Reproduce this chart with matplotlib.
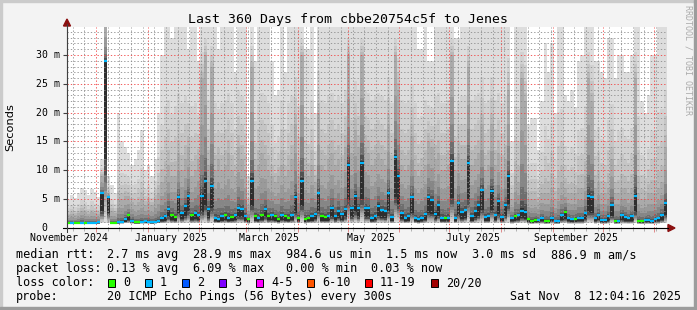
#!/usr/bin/env python3
# smokeping style "last 360 days" graph, cbbe20754c5f -> Jenes

import matplotlib
matplotlib.use("Agg")
import matplotlib.pyplot as plt
import matplotlib.dates as mdates
import matplotlib.transforms as mtrans
from matplotlib.patches import Rectangle, Polygon
from matplotlib.lines import Line2D
from datetime import datetime, timedelta

W, H = 697, 310
MONO = "DejaVu Sans Mono"

start = datetime(2024, 11, 13, 12, 4, 16)
end = datetime(2025, 11, 8, 12, 4, 16)
bin_days = 2

# median rtt per 2-day bin (ms)
med = [0.95, 0.9, 0.95, 0.9, 0.95, 0.9, 0.95, 0.9, 0.95, 1.0,
       6.0, 28.9, 5.4, 0.9, 0.95, 1.0, 1.1, 1.6, 2.2, 1.3,
       1.0, 1.0, 1.1, 1.2, 1.1, 1.0, 1.1, 1.3, 1.7, 2.0,
       3.3, 2.3, 1.9, 5.3, 2.6, 3.8, 5.6, 2.2, 2.6, 2.3,
       5.6, 8.2, 3.3, 7.3, 1.8,
       1.6, 2.0, 2.2, 1.8, 1.9, 2.2, 3.4, 3.3, 2.0, 1.5,
       8.2, 2.0, 1.7, 2.3, 3.3, 2.1, 2.3, 2.0, 1.6, 2.2,
       2.0, 1.8, 2.3, 5.4, 1.7, 8.2, 1.6, 1.8, 2.0, 2.5,
       6.0, 2.0, 1.9, 2.0, 3.4, 2.1, 3.0, 2.4, 3.3, 10.9,
       3.4, 5.6, 3.5, 11.3, 3.4,
       3.4, 1.8, 2.1, 3.9, 3.2, 3.0, 6.1, 1.9, 12.3, 9.1,
       2.6, 1.8, 2.0, 5.3, 1.7, 1.5, 1.7, 2.4, 5.3, 4.9,
       2.5, 4.0, 1.8, 1.7, 1.8, 11.6, 1.8, 4.3, 2.8, 3.2,
       11.3, 2.0, 3.0, 4.0, 6.6, 1.9, 2.0, 6.5, 2.3, 4.6,
       1.9, 4.0, 9.0, 1.7, 2.0,
       2.2, 3.0, 2.8, 1.5, 1.3, 1.4, 1.4, 1.7, 1.2, 1.3,
       1.8, 1.2, 1.2, 2.2, 2.8, 1.7, 1.5, 1.6, 1.7, 1.7,
       2.6, 5.6, 5.3, 1.7, 2.2, 1.4, 1.4, 2.0, 4.0, 1.2,
       1.3, 2.2, 1.9, 1.7, 2.0, 5.6, 1.3, 1.2, 1.4, 1.4,
       1.3, 1.6, 1.7, 2.2, 4.3]

# loss bucket of the median per bin (0 = no loss, 1 = 1/20)
loss = [0, 1, 0, 0, 1, 0, 1, 1, 1, 1, 1, 1, 1, 0, 0, 1, 1, 1, 0, 1,
        0, 0, 1, 1, 1, 1, 1, 1, 1, 1, 1, 0, 0, 1, 1, 1, 1, 0, 1, 1,
        1, 1, 1, 1, 1,
        1, 1, 0, 1, 0, 1, 1, 1, 1, 0, 1, 0, 1, 0, 1, 0, 1, 0, 0, 1,
        0, 0, 1, 1, 0, 1, 0, 0, 1, 1, 1, 0, 0, 1, 1, 1, 1, 1, 1, 1,
        1, 1, 1, 1, 1,
        1, 1, 1, 1, 1, 1, 1, 1, 1, 1, 1, 1, 1, 1, 1, 1, 1, 1, 1, 1,
        1, 1, 1, 0, 1, 1, 1, 1, 1, 1, 1, 1, 1, 1, 1, 1, 1, 1, 1, 1,
        1, 1, 1, 1, 0,
        1, 1, 1, 0, 0, 0, 1, 1, 0, 0, 1, 1, 1, 1, 0, 1, 1, 0, 1, 1,
        1, 1, 1, 1, 1, 1, 1, 1, 1, 0, 1, 1, 1, 1, 1, 1, 0, 0, 1, 1,
        1, 1, 1, 1, 1]

# highest ping of the bin (top of the light smoke, ms)
hi = [5.0, 5.7, 5.2, 6.0, 7.0, 6.6, 5.8, 6.8, 6.2, 5.4,
      12, 36, 9, 7.5, 6.0, 20, 15, 14, 13, 11,
      12, 13.5, 17, 10, 11, 9, 12, 20, 30, 36,
      36, 33, 36, 36, 36, 36, 31, 36, 36, 29,
      36, 36, 36, 36, 36,
      31, 36, 36, 36, 36, 27, 36, 36, 36, 9,
      36, 29, 36, 36, 36, 36, 29, 23, 24, 36,
      27, 36, 36, 36, 36, 36, 31, 31, 36, 20,
      36, 36, 36, 36, 36, 36, 36, 36, 36, 36,
      36, 36, 36, 36, 36,
      36, 36, 36, 36, 36, 36, 36, 36, 36, 36,
      36, 36, 36, 36, 36, 31, 31, 36, 29, 29,
      36, 36, 36, 36, 36, 36, 33, 33, 36, 36,
      36, 36, 36, 36, 36, 36, 36, 36, 36, 36,
      36, 36, 36, 15, 36,
      36, 36, 36, 18, 19, 19, 13.5, 22, 32, 27,
      32, 20, 36, 36, 23, 22, 24, 21, 29, 30,
      36, 36, 36, 29, 29, 27, 26, 33, 33, 26,
      30, 30, 27, 27, 30, 36, 36, 22, 20, 23,
      30, 30, 36, 36, 36]

# upper quartile ping (top of the darker smoke, ms)
q = [2.2, 2.5, 2.3, 2.6, 3.0, 2.8, 2.5, 2.8, 2.6, 2.4,
     9, 36, 6, 3, 2.6, 5, 5, 5.5, 5.5, 4.5,
     4, 4.5, 5, 4, 4.5, 4, 5, 6, 8, 9,
     11, 9, 9, 13, 10, 12, 14, 9, 10, 12,
     26, 30, 11, 28, 10,
     12, 10, 11, 13, 10, 9, 14, 12, 10, 4,
     28, 10, 11, 13, 12, 10, 9, 8, 9, 11,
     9, 10, 12, 18, 9, 30, 10, 9, 11, 8,
     20, 11, 10, 12, 13, 11, 12, 10, 14, 30,
     13, 17, 14, 30, 14,
     13, 11, 12, 13, 12, 11, 18, 10, 30, 24,
     11, 10, 11, 16, 10, 9, 10, 11, 15, 14,
     12, 13, 10, 10, 11, 30, 10, 13, 12, 12,
     28, 11, 12, 13, 18, 10, 11, 18, 11, 13,
     10, 12, 24, 5, 9,
     8, 26, 22, 5, 5, 5, 4.5, 6, 6, 6,
     7, 5, 7, 8, 7, 6, 6, 6, 7, 7,
     9, 26, 22, 7, 8, 6, 6, 7, 12, 6,
     6, 7, 7, 6, 7, 26, 6, 5, 5, 6,
     6, 6, 7, 8, 14]

# lowest ping of the bin (ms)
lo = [0.7, 0.7, 0.7, 0.7, 0.7, 0.7, 0.7, 0.7, 0.7, 0.7,
      0.8, 0.8, 0.8, 0.7, 0.7, 0.7, 0.75, 0.8, 0.8, 0.75,
      0.7, 0.7, 0.75, 0.75, 0.75, 0.7, 0.75, 0.8, 0.8, 0.8,
      0.85, 0.8, 0.8, 0.85, 0.8, 0.85, 0.85, 0.8, 0.8, 0.8,
      0.85, 0.85, 0.8, 0.85, 0.8,
      0.8, 0.8, 0.8, 0.8, 0.8, 0.8, 0.85, 0.85, 0.8, 0.75,
      0.85, 0.8, 0.8, 0.8, 0.85, 0.8, 0.8, 0.8, 0.75, 0.8,
      0.8, 0.8, 0.8, 0.85, 0.8, 0.85, 0.75, 0.8, 0.8, 0.8,
      0.85, 0.8, 0.8, 0.8, 0.85, 0.8, 0.85, 0.8, 0.85, 0.9,
      0.85, 0.85, 0.85, 0.9, 0.85,
      0.85, 0.8, 0.8, 0.85, 0.85, 0.8, 0.85, 0.8, 0.9, 0.9,
      0.8, 0.8, 0.8, 0.85, 0.8, 0.75, 0.8, 0.8, 0.85, 0.85,
      0.8, 0.85, 0.8, 0.8, 0.8, 0.9, 0.8, 0.85, 0.8, 0.85,
      0.9, 0.8, 0.8, 0.85, 0.85, 0.8, 0.8, 0.85, 0.8, 0.85,
      0.8, 0.85, 0.85, 0.75, 0.8,
      0.8, 0.85, 0.85, 0.75, 0.7, 0.75, 0.75, 0.75, 0.7, 0.7,
      0.75, 0.7, 0.7, 0.8, 0.8, 0.75, 0.75, 0.75, 0.75, 0.75,
      0.8, 0.85, 0.85, 0.75, 0.8, 0.7, 0.7, 0.75, 0.8, 0.7,
      0.7, 0.75, 0.75, 0.75, 0.75, 0.85, 0.7, 0.7, 0.7, 0.7,
      0.7, 0.75, 0.75, 0.8, 0.8]

loss_colors = ["#26ff00", "#00b8ff", "#0059ff", "#7e00ff",
               "#ff00ff", "#ff5500", "#ff0000", "#a10000"]
loss_labels = ["0", "1", "2", "3", "4-5", "6-10", "11-19", "20/20"]

y_ticks = [0, 5, 10, 15, 20, 25, 30]
x_labels = [(datetime(2024, 11, 15), "November 2024"),
            (datetime(2025, 1, 15), "January 2025"),
            (datetime(2025, 3, 15), "March 2025"),
            (datetime(2025, 5, 15), "May 2025"),
            (datetime(2025, 7, 15), "July 2025"),
            (datetime(2025, 9, 15), "September 2025")]

legend_rows = [
    [(16, "median rtt:"), (107, "2.7 ms avg"), (193, "28.9 ms max"),
     (286, "984.6 us min"), (386, "1.5 ms now"), (472, "3.0 ms sd"),
     (551, "886.9 m am/s")],
    [(16, "packet loss:"), (107, "0.13 % avg"), (193, "6.09 % max"),
     (286, "0.00 % min"), (371, "0.03 % now")],
]
loss_box_x = [108, 145, 182, 219, 256, 307, 365, 431]


def fx(px):
    return px / W


def fy(py):
    return 1 - py / H


fig = plt.figure(figsize=(W / 100, H / 100), dpi=100, facecolor="#f3f3f3")
ax = fig.add_axes([fx(67), fy(228), 600 / W, 201 / H])
ax.set_facecolor("white")

# smoke: 10 shades, light outside, dark around the median
grays = ["#dddddd", "#d1d1d1", "#c5c5c5", "#b8b8b8", "#aaaaaa",
         "#9a9a9a", "#868686", "#6e6e6e", "#515151", "#2e2e2e"]
outer_fr = [1.0, 0.45, 0.25, 0.1, 0.0]
inner_fr = [0.6, 0.35, 0.18, 0.07, 0.02]
low_fr = [1.0, 0.97, 0.94, 0.9, 0.87, 0.84, 0.8, 0.75, 0.7, 0.6]

n = len(med)
x0 = [mdates.date2num(start + timedelta(days=bin_days * i)) for i in range(n)]
for k in range(10):
    tops, bots = [], []
    for i in range(n):
        if k < 5:
            top = q[i] + (hi[i] - q[i]) * outer_fr[k]
        else:
            top = med[i] + (q[i] - med[i]) * inner_fr[k - 5]
        bot = med[i] - (med[i] - lo[i]) * low_fr[k]
        tops.append(top)
        bots.append(bot)
    ax.bar(x0, [t - b for t, b in zip(tops, bots)], bottom=bots,
           width=bin_days, align="edge", color=grays[k], linewidth=0,
           antialiased=False, zorder=1)

# median line coloured by loss
ax.hlines(med, x0, [x + bin_days for x in x0],
          colors=[loss_colors[c] for c in loss], linewidth=1.6, zorder=4)

ax.set_xlim(mdates.date2num(start), mdates.date2num(end))
ax.set_ylim(0, 34.85)

# grid (dotted, drawn over the smoke like rrdtool does)
ax.xaxis.set_major_locator(mdates.MonthLocator(bymonthday=1))
ax.xaxis.set_minor_locator(mdates.WeekdayLocator(byweekday=mdates.SU))
ax.set_yticks(y_ticks)
ax.set_yticks(range(0, 35), minor=True)
ax.set_axisbelow(False)
ax.grid(which="minor", color=(0.55, 0.55, 0.55, 0.4), linewidth=0.6,
        linestyle=(0, (1.6, 2.4)))
ax.grid(which="major", color=(0.95, 0.25, 0.25, 0.38), linewidth=0.6,
        linestyle=(0, (1.6, 2.4)))
ax.tick_params(labelbottom=False, labelleft=False)
ax.tick_params(axis="x", which="major", length=3, width=0.7,
               color="#e08a8a", direction="out")
ax.tick_params(axis="x", which="minor", length=2, width=0.7,
               color="#b0b0b0", direction="out")
ax.tick_params(axis="y", which="major", length=3, width=0.8,
               color="#404040", direction="out")
ax.tick_params(axis="y", which="minor", length=0)
for s in ["top", "right"]:
    ax.spines[s].set_visible(False)
ax.spines["bottom"].set_color("black")
ax.spines["left"].set_color("#404040")

# y labels, digits aligned like rrdtool
ytr = mtrans.blended_transform_factory(ax.transAxes, ax.transData)
for v in y_ticks:
    s = f"{v:2d} m" if v else " 0  "
    ax.text(-31 / 600, v, s, transform=ytr, ha="left", va="center",
            fontsize=7.1, family=MONO)

xtr = mtrans.blended_transform_factory(ax.transData, ax.transAxes)
for d, s in x_labels:
    ax.text(mdates.date2num(d), -13 / 201, s, transform=xtr, ha="center",
            va="baseline", fontsize=7.1, family=MONO)

# axis line extensions and arrows
fig.add_artist(Line2D([fx(63), fx(668)], [fy(228), fy(228)], color="black",
                      linewidth=0.75, transform=fig.transFigure))
fig.add_artist(Line2D([fx(67), fx(67)], [fy(232), fy(24)], color="#404040",
                      linewidth=0.75, transform=fig.transFigure))
fig.add_artist(Polygon([(fx(668), fy(224.5)), (fx(675), fy(228)),
                        (fx(668), fy(231.5))], closed=True,
                       color="#8b1010", transform=fig.transFigure))
fig.add_artist(Polygon([(fx(63.5), fy(26)), (fx(67), fy(19)),
                        (fx(70.5), fy(26))], closed=True,
                       color="#8b1010", transform=fig.transFigure))

# title and side labels
fig.text(0.5, fy(23.5), "Last 360 Days from cbbe20754c5f to Jenes",
         ha="center", va="baseline", fontsize=9.5, family=MONO)
fig.text(fx(10), fy(127), "Seconds", rotation=90, ha="center", va="center",
         fontsize=8.2, family="DejaVu Sans")
fig.text(fx(688), fy(5), "RRDTOOL / TOBI OETIKER", rotation=270,
         ha="center", va="top", fontsize=6, family=MONO, color="#ababab")

# legend
base = [258.3, 272.2]
for row, yb in zip(legend_rows, base):
    for px, s in row:
        fig.text(fx(px), fy(yb), s, ha="left", va="baseline", fontsize=8.5,
                 family=MONO)

fig.text(fx(16), fy(286.2), "loss color:", ha="left", va="baseline",
         fontsize=8.5, family=MONO)
for bx, c, s in zip(loss_box_x, loss_colors, loss_labels):
    fig.add_artist(Rectangle((fx(bx), fy(286.5)), 7 / W, 8 / H,
                             facecolor=c, edgecolor="black", linewidth=0.7,
                             transform=fig.transFigure))
    fig.text(fx(bx + 15), fy(286.2), s, ha="left", va="baseline",
             fontsize=8.5, family=MONO)

fig.text(fx(16), fy(300), "probe:", ha="left", va="baseline", fontsize=8.5,
         family=MONO)
fig.text(fx(107), fy(300), "20 ICMP Echo Pings (56 Bytes) every 300s",
         ha="left", va="baseline", fontsize=8.5, family=MONO)
fig.text(fx(681), fy(300), "Sat Nov  8 12:04:16 2025", ha="right",
         va="baseline", fontsize=8.5, family=MONO)

# 3d frame
fig.add_artist(Rectangle((0, fy(2)), 1, 2 / H, color="#cbcbcb",
                         transform=fig.transFigure))
fig.add_artist(Rectangle((0, 0), 2 / W, 1, color="#cbcbcb",
                         transform=fig.transFigure))
fig.add_artist(Rectangle((0, 0), 1, 3 / H, color="#9c9c9c",
                         transform=fig.transFigure))
fig.add_artist(Rectangle((fx(694), 0), 3 / W, 1, color="#9c9c9c",
                         transform=fig.transFigure))

fig.savefig("out.png", dpi=100, facecolor=fig.get_facecolor())
